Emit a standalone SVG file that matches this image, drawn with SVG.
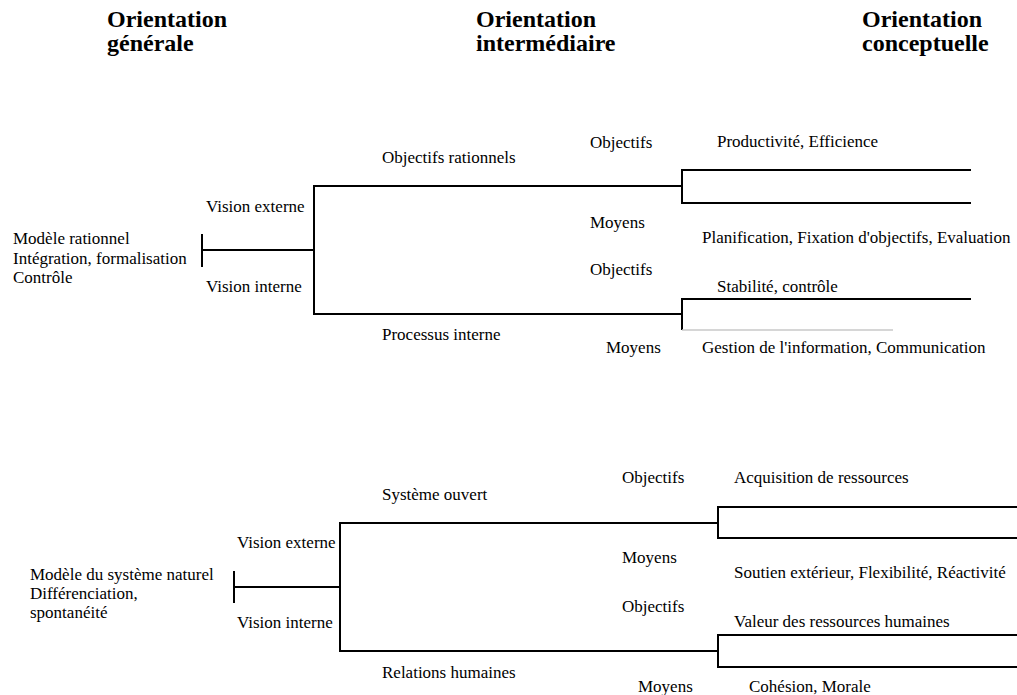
<svg xmlns="http://www.w3.org/2000/svg" width="1017" height="695" viewBox="0 0 1017 695">
<style>
.h{font-family:'Liberation Serif',serif;font-size:24px;font-weight:bold;fill:#000}
.t{font-family:'Liberation Serif',serif;font-size:17px;font-weight:normal;fill:#000}
.c line,.c polyline{stroke:#000;stroke-width:2;fill:none}
</style>
<rect width="1017" height="695" fill="#fff"/>
<g id="headers">
<text class="h" x="107" y="27">Orientation</text>
<text class="h" x="107" y="51">générale</text>
<text class="h" x="476" y="27">Orientation</text>
<text class="h" x="476" y="51">intermédiaire</text>
<text class="h" x="862" y="27">Orientation</text>
<text class="h" x="862" y="51">conceptuelle</text>
</g>
<g id="connectors" class="c">
<line x1="202" y1="234" x2="202" y2="267" stroke-width="2.5"/>
<line x1="202" y1="250" x2="314" y2="250"/>
<line x1="314" y1="186" x2="314" y2="315"/>
<line x1="313" y1="186" x2="682" y2="186"/>
<line x1="313" y1="314" x2="682" y2="314"/>
<polyline points="971,170 682,170 682,203 971,203"/>
<polyline points="971,299 682,299 682,330"/>
<line x1="682" y1="330" x2="893" y2="330" style="stroke:#c8c8c8;stroke-width:1.5"/>
<line x1="234" y1="571" x2="234" y2="603" stroke-width="2.5"/>
<line x1="234" y1="587" x2="340" y2="587"/>
<line x1="340" y1="523" x2="340" y2="651"/>
<line x1="339" y1="523" x2="718" y2="523"/>
<line x1="339" y1="651" x2="718" y2="651"/>
<polyline points="1017,507 718,507 718,538 1017,538"/>
<polyline points="1017,635 718,635 718,667 1017,667"/>
</g>
<g id="node-modele-rationnel">
<text class="t" x="13" y="244">Modèle rationnel</text>
<text class="t" x="13" y="263.5">Intégration, formalisation</text>
<text class="t" x="13" y="283">Contrôle</text>
</g>
<g id="node-vision-top">
<text class="t" x="206" y="212">Vision externe</text>
<text class="t" x="206" y="292">Vision interne</text>
</g>
<g id="node-objectifs-rationnels">
<text class="t" x="382" y="163">Objectifs rationnels</text>
<text class="t" x="590" y="148">Objectifs</text>
<text class="t" x="717" y="147">Productivité, Efficience</text>
<text class="t" x="590" y="228">Moyens</text>
<text class="t" x="702" y="243">Planification, Fixation d'objectifs, Evaluation</text>
</g>
<g id="node-processus-interne">
<text class="t" x="382" y="340">Processus interne</text>
<text class="t" x="590" y="275">Objectifs</text>
<text class="t" x="717" y="292">Stabilité, contrôle</text>
<text class="t" x="606" y="353">Moyens</text>
<text class="t" x="702" y="353">Gestion de l'information, Communication</text>
</g>
<g id="node-modele-naturel">
<text class="t" x="30" y="580">Modèle du système naturel</text>
<text class="t" x="30" y="599">Différenciation,</text>
<text class="t" x="30" y="618">spontanéité</text>
</g>
<g id="node-vision-bottom">
<text class="t" x="237" y="548">Vision externe</text>
<text class="t" x="237" y="628">Vision interne</text>
</g>
<g id="node-systeme-ouvert">
<text class="t" x="382" y="500">Système ouvert</text>
<text class="t" x="622" y="483">Objectifs</text>
<text class="t" x="734" y="483">Acquisition de ressources</text>
<text class="t" x="622" y="563">Moyens</text>
<text class="t" x="734" y="578">Soutien extérieur, Flexibilité, Réactivité</text>
</g>
<g id="node-relations-humaines">
<text class="t" x="382" y="678">Relations humaines</text>
<text class="t" x="622" y="612">Objectifs</text>
<text class="t" x="734" y="627">Valeur des ressources humaines</text>
<text class="t" x="638" y="692">Moyens</text>
<text class="t" x="749" y="692">Cohésion, Morale</text>
</g>
</svg>
